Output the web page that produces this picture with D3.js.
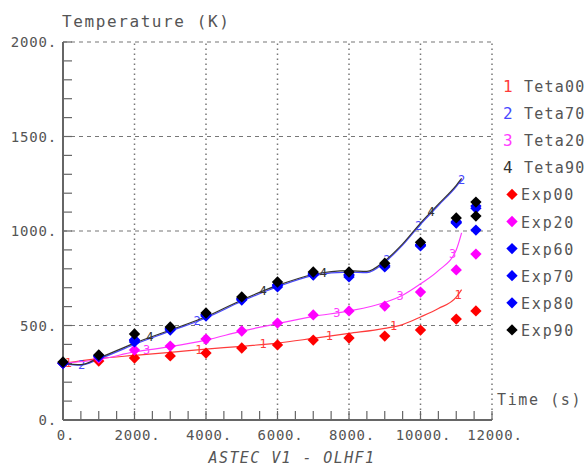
<!DOCTYPE html>
<html>
<head>
<meta charset="utf-8">
<script src="https://cdn.jsdelivr.net/npm/d3@7"></script>
<style>
  body { margin: 0; background: #fff; }
  text { font-family: "DejaVu Sans Mono", "Liberation Mono", monospace; fill: #555; }
</style>
</head>
<body>
<div class="chart"></div>
<script>
// simulation curves (time s, temperature K)
var simTime1 = [0, 1000, 2000, 3000, 4000, 5000, 6000, 7000, 8000, 9000, 9500, 10000, 10500, 11000, 11150];
var teta00 = [300, 325, 342, 358, 375, 390, 407, 432, 458, 485, 505, 545, 590, 650, 690];
var teta20 = [300, 320, 360, 388, 423, 470, 510, 548, 577, 622, 660, 720, 790, 900, 990];

var simTime2 = [0, 500, 1000, 2000, 3000, 4000, 5000, 6000, 7000, 8000, 8500, 9000, 9500, 10000, 10500, 11000, 11150];
var teta70 = [298, 290, 322, 400, 470, 540, 628, 705, 764, 782, 780, 835, 925, 1035, 1135, 1235, 1272];
var teta90 = [300, 293, 328, 407, 476, 546, 635, 712, 770, 790, 786, 842, 932, 1042, 1142, 1242, 1278];

// experimental points
var expTime = [0, 1000, 2000, 3000, 4000, 5000, 6000, 7000, 8000, 9000, 10000, 11000, 11550];
var exp00 = [300, 312, 328, 339, 354, 381, 397, 423, 434, 444, 476, 534, 577];
var exp20 = [300, 328, 370, 391, 428, 471, 513, 556, 577, 603, 677, 794, 878];
var exp60 = [300, 335, 413, 476, 550, 635, 704, 767, 757, 810, 921, 1042, 1005];
var exp70 = [300, 338, 420, 482, 555, 640, 712, 770, 765, 815, 925, 1045, 1132];
var exp80 = [302, 340, 425, 485, 558, 642, 715, 775, 770, 818, 928, 1050, 1120];
var exp90Time = [0, 1000, 2000, 3000, 4000, 5000, 6000, 7000, 8000, 9000, 10000, 11000, 11550, 11550];
var exp90 = [307, 344, 455, 492, 566, 651, 730, 783, 783, 830, 940, 1069, 1153, 1079];

// where the curve numbers sit along each line
var labelTimes1 = [150, 3800, 5600, 7450, 9250, 11050];
var labelTimes2 = [520, 3750, 9060, 9950, 11150];
var labelTimes3 = [2340, 4000, 7660, 9430, 10900];
var labelTimes4 = [950, 2430, 5600, 7280, 10300];

var yTicks = [0, 500, 1000, 1500, 2000];
var xTicks = [0, 2000, 4000, 6000, 8000, 10000, 12000];

var width = 588, height = 468;

var x = d3.scaleLinear().domain([0, 12000]).range([63, 492]);
var y = d3.scaleLinear().domain([0, 2000]).range([420, 42]);

var svg = d3.select(".chart").append("svg")
    .attr("width", width)
    .attr("height", height);

// grid
svg.selectAll(".hgrid")
  .data(yTicks.filter(function (d) { return d > 0; }))
  .enter().append("line")
    .attr("x1", x(0)).attr("x2", x(12000))
    .attr("y1", function (d) { return y(d); })
    .attr("y2", function (d) { return y(d); })
    .style("stroke", "#777").style("stroke-width", 1.2)
    .style("stroke-dasharray", "4,4");

svg.selectAll(".vgrid")
  .data(xTicks.filter(function (d) { return d > 0; }))
  .enter().append("line")
    .attr("y1", y(0)).attr("y2", y(2000))
    .attr("x1", function (d) { return x(d); })
    .attr("x2", function (d) { return x(d); })
    .style("stroke", "#777").style("stroke-width", 1.5)
    .style("stroke-dasharray", "1.5,3.5");

// minor ticks
svg.selectAll(".ytick")
  .data(d3.range(0, 2001, 100))
  .enter().append("line")
    .attr("x1", x(0)).attr("x2", x(0) + 9)
    .attr("y1", function (d) { return y(d); })
    .attr("y2", function (d) { return y(d); })
    .style("stroke", "#666").style("stroke-width", 1.2);

svg.selectAll(".xtick")
  .data(d3.range(0, 12001, 500))
  .enter().append("line")
    .attr("y1", y(0)).attr("y2", y(0) - 9)
    .attr("x1", function (d) { return x(d); })
    .attr("x2", function (d) { return x(d); })
    .style("stroke", "#666").style("stroke-width", 1.2);

// axes
svg.append("line")
  .attr("x1", x(0)).attr("x2", x(0)).attr("y1", y(0)).attr("y2", y(2000))
  .style("stroke", "#666").style("stroke-width", 2);
svg.append("line")
  .attr("x1", x(0)).attr("x2", x(12000)).attr("y1", y(0)).attr("y2", y(0))
  .style("stroke", "#666").style("stroke-width", 2);

svg.selectAll(".ylab")
  .data(yTicks)
  .enter().append("text")
    .attr("x", 57)
    .attr("y", function (d) { return y(d) + 5; })
    .style("text-anchor", "end")
    .style("font-size", "14px")
    .style("letter-spacing", "0.8px")
    .text(function (d) { return d + "."; });

svg.selectAll(".xlab")
  .data(xTicks)
  .enter().append("text")
    .attr("x", function (d) { return x(d) + 3; })
    .attr("y", 440)
    .style("text-anchor", "middle")
    .style("font-size", "14px")
    .style("letter-spacing", "0.8px")
    .text(function (d) { return d + "."; });

svg.append("text").attr("x", 62).attr("y", 27)
  .style("font-size", "16px").style("letter-spacing", "1.6px").text("Temperature (K)");
svg.append("text").attr("x", 497).attr("y", 405)
  .style("font-size", "15px").style("letter-spacing", "1.6px").text("Time (s)");
svg.append("text").attr("x", 292).attr("y", 463)
  .style("font-size", "15px").style("font-style", "italic")
  .style("letter-spacing", "1.4px")
  .style("text-anchor", "middle").text("ASTEC V1 - OLHF1");

// simulation lines
var sims = [
  {name: "Teta00", num: "1", color: "#ff3b3b", t: simTime1, v: teta00, labels: labelTimes1},
  {name: "Teta70", num: "2", color: "#4848ff", t: simTime2, v: teta70, labels: labelTimes2},
  {name: "Teta20", num: "3", color: "#ff3bff", t: simTime1, v: teta20, labels: labelTimes3},
  {name: "Teta90", num: "4", color: "#333333", t: simTime2, v: teta90, labels: labelTimes4}
];

var line = d3.line()
  .x(function (d) { return x(d[0]); })
  .y(function (d) { return y(d[1]); })
  .curve(d3.curveMonotoneX);

sims.forEach(function (s) {
  var pts = s.t.map(function (t, i) { return [t, s.v[i]]; });
  svg.append("path")
    .datum(pts)
    .attr("d", line)
    .style("fill", "none")
    .style("stroke", s.color)
    .style("stroke-width", 1.2);
  s.labels.forEach(function (lt) {
    var lv = d3.scaleLinear().domain(s.t).range(s.v)(lt);
    svg.append("text")
      .attr("x", x(lt))
      .attr("y", y(lv) + 4)
      .style("text-anchor", "middle")
      .style("font-size", "12px")
      .style("fill", s.color)
      .text(s.num);
  });
});

// experimental points
var exps = [
  {name: "Exp00", color: "#ff0000", t: expTime, v: exp00},
  {name: "Exp20", color: "#ff00ff", t: expTime, v: exp20},
  {name: "Exp60", color: "#0000ff", t: expTime, v: exp60},
  {name: "Exp70", color: "#0000ff", t: expTime, v: exp70},
  {name: "Exp80", color: "#0000ff", t: expTime, v: exp80},
  {name: "Exp90", color: "#000000", t: exp90Time, v: exp90}
];

var diamond = d3.symbol().type(d3.symbolSquare).size(64);

exps.forEach(function (e) {
  svg.selectAll(null)
    .data(e.t.map(function (t, i) { return [t, e.v[i]]; }))
    .enter().append("path")
      .attr("d", diamond)
      .attr("transform", function (d) {
        return "translate(" + x(d[0]) + "," + y(d[1]) + ") rotate(45)";
      })
      .style("fill", e.color);
});

// legend
var legend = svg.append("g");
sims.forEach(function (s, i) {
  var ly = 86 + 27.1 * i;
  legend.append("text").attr("x", 503).attr("y", ly + 6)
    .style("font-size", "16px").style("fill", s.color).text(s.num);
  legend.append("text").attr("x", 524).attr("y", ly + 6)
    .style("font-size", "15px").style("letter-spacing", "1.2px").text(s.name);
});
exps.forEach(function (e, i) {
  var ly = 86 + 27.1 * (i + 4);
  legend.append("path")
    .attr("d", diamond)
    .attr("transform", "translate(512," + ly + ") rotate(45)")
    .style("fill", e.color);
  legend.append("text").attr("x", 521).attr("y", ly + 6)
    .style("font-size", "15px").style("letter-spacing", "1.8px").text(e.name);
});
</script>
</body>
</html>
